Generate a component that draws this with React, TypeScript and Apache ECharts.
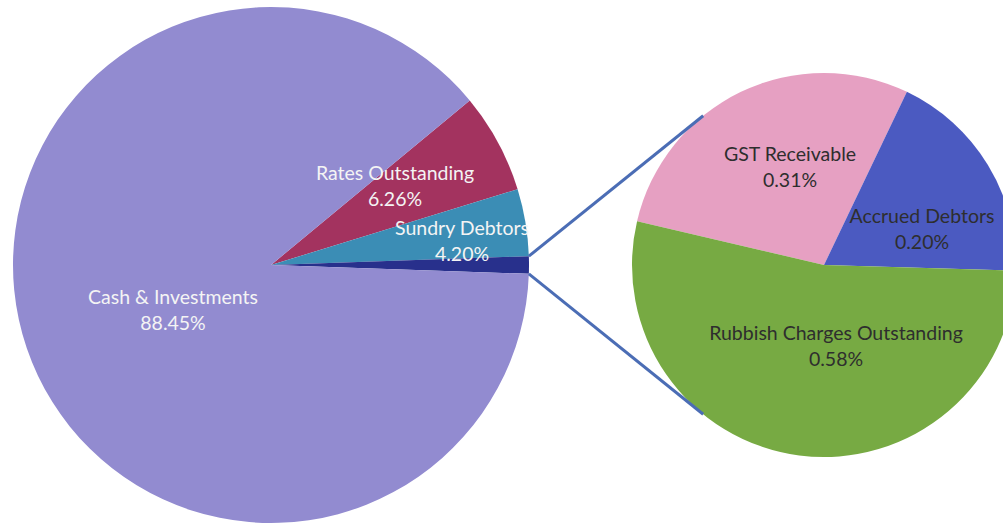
import React, { useEffect, useRef } from "react";
import * as echarts from "echarts";

// Main pie (percent of total)
const mainNames = ["Rates Outstanding", "Sundry Debtors", "Other", "Cash & Investments"];
const mainValues = [6.26, 4.2, 1.09, 88.45];
const mainLabels = ["Rates Outstanding\n6.26%", "Sundry Debtors\n4.20%", "", "Cash & Investments\n88.45%"];

// Secondary pie (breakdown of "Other")
const subNames = ["GST Receivable", "Accrued Debtors", "Rubbish Charges Outstanding"];
const subValues = [0.31, 0.2, 0.58];
const subLabels = ["GST Receivable\n0.31%", "Accrued Debtors\n0.20%", "Rubbish Charges Outstanding\n0.58%"];

const mainColors = ["#a3335f", "#3b8db5", "#28308c", "#928bd0"];
const subColors = ["#e6a0c2", "#4b5ac1", "#77aa43"];

// label anchor points (layout, not data)
const mainLabelPos: Record<number, [number, number]> = {
  0: [395, 185],
  1: [462, 240],
  3: [173, 309],
};
const subLabelPos: Record<number, [number, number]> = {
  0: [790, 166],
  1: [922, 228],
  2: [836, 345],
};

export default function App() {
  const ref = useRef<HTMLDivElement>(null);
  useEffect(() => {
    if (!ref.current) return;
    const chart = echarts.init(ref.current, null, { renderer: "svg" });
    const mainCenter = [271, 265];
    const mainR = 258;
    const subCenter = [824, 265];
    const subR = 192;
    const otherDeg = (mainValues[2] / mainValues.reduce((a, b) => a + b, 0)) * 360;
    const mainStart = ((mainValues[0] + mainValues[1]) / 100) * 360 + otherDeg / 2;
    const rad = (d: number) => (d * Math.PI) / 180;
    const p1 = [mainCenter[0] + mainR * Math.cos(rad(otherDeg / 2)), mainCenter[1] - mainR * Math.sin(rad(otherDeg / 2))];
    const p2 = [mainCenter[0] + mainR * Math.cos(rad(-otherDeg / 2)), mainCenter[1] - mainR * Math.sin(rad(-otherDeg / 2))];
    const q1 = [subCenter[0] + subR * Math.cos(rad(129)), subCenter[1] - subR * Math.sin(rad(129))];
    const q2 = [subCenter[0] + subR * Math.cos(rad(-129)), subCenter[1] - subR * Math.sin(rad(-129))];
    const font = "Lato, 'Open Sans', sans-serif";
    chart.setOption({
      animation: false,
      backgroundColor: "#ffffff",
      series: [
        {
          type: "pie",
          center: mainCenter,
          radius: mainR,
          startAngle: mainStart,
          clockwise: true,
          avoidLabelOverlap: false,
          silent: true,
          itemStyle: { borderWidth: 0 },
          label: {
            show: true,
            position: "inside",
            color: "#f4f4f4",
            fontSize: 19.5,
            lineHeight: 26,
            fontFamily: font,
            formatter: (p: any) => mainLabels[p.dataIndex],
          },
          labelLine: { show: false },
          labelLayout: (p: any) => {
            const pos = mainLabelPos[p.dataIndex];
            if (!pos) return {};
            return { x: pos[0], y: pos[1], align: "center", verticalAlign: "middle" };
          },
          data: mainNames.map((n, i) => ({ name: n, value: mainValues[i], itemStyle: { color: mainColors[i] } })),
        },
        {
          type: "pie",
          center: subCenter,
          radius: subR,
          startAngle: 166.8,
          clockwise: true,
          avoidLabelOverlap: false,
          silent: true,
          itemStyle: { borderWidth: 0 },
          label: {
            show: true,
            position: "inside",
            color: "#2e2e2e",
            fontSize: 19.5,
            lineHeight: 26,
            fontFamily: font,
            formatter: (p: any) => subLabels[p.dataIndex],
          },
          labelLine: { show: false },
          labelLayout: (p: any) => {
            const pos = subLabelPos[p.dataIndex];
            if (!pos) return {};
            return { x: pos[0], y: pos[1], align: "center", verticalAlign: "middle" };
          },
          data: subNames.map((n, i) => ({ name: n, value: subValues[i], itemStyle: { color: subColors[i] } })),
        },
      ],
      graphic: [
        {
          type: "line",
          shape: { x1: p1[0], y1: p1[1], x2: q1[0], y2: q1[1] },
          style: { stroke: "#4b6db5", lineWidth: 3 },
          z: 10,
        },
        {
          type: "line",
          shape: { x1: p2[0], y1: p2[1], x2: q2[0], y2: q2[1] },
          style: { stroke: "#4b6db5", lineWidth: 3 },
          z: 10,
        },
      ],
    });
    return () => chart.dispose();
  }, []);
  return (
    <div
      ref={ref}
      style={{ position: "absolute", left: 0, top: 0, width: 1003, height: 527 }}
    />
  );
}
